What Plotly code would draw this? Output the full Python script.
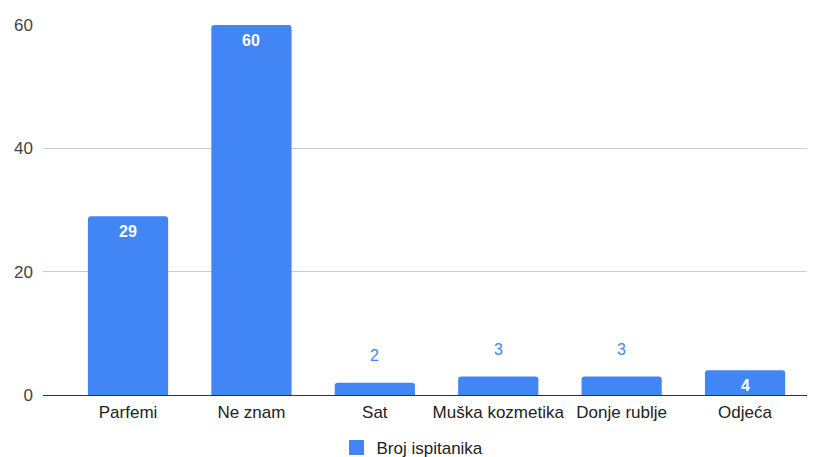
import plotly.graph_objects as go

categories = ["Parfemi", "Ne znam", "Sat", "Muška kozmetika", "Donje rublje", "Odjeća"]
values = [29, 60, 2, 3, 3, 4]
series_name = "Broj ispitanika"
y_ticks = [0, 20, 40, 60]

BLUE = "#4285F4"
FONT = "Liberation Sans, Arial, sans-serif"

fig = go.Figure()
fig.add_trace(go.Bar(
    x=list(range(len(categories))),
    y=values,
    name=series_name,
    marker=dict(color=BLUE, line=dict(width=0)),
    width=0.65,
    hoverinfo="skip",
    showlegend=False,
    legendgroup="s",
))
# legend entry with a larger square swatch, as in the reference
fig.add_trace(go.Scatter(
    x=[None], y=[None], mode="markers", name=series_name,
    marker=dict(symbol="square", size=15, color=BLUE),
    legendgroup="s", showlegend=True, hoverinfo="skip",
))

annotations = []
for i, v in enumerate(values):
    inside = v >= 4
    annotations.append(dict(
        x=i, y=v, xref="x", yref="y",
        text=(f"<b>{v}</b>" if inside else str(v)),
        showarrow=False,
        yshift=-15 if inside else 27,
        font=dict(family=FONT, size=16, color="white" if inside else BLUE),
    ))

# page body has an 8px default margin; figure sized to fit the 815x457 window
fig.update_layout(
    width=807, height=449,
    margin=dict(l=35, r=7, t=17, b=62, autoexpand=False),
    paper_bgcolor="white", plot_bgcolor="white",
    font=dict(family=FONT, size=17, color="#222222"),
    barcornerradius=3,
    showlegend=True,
    legend=dict(orientation="h", x=0.483, xanchor="center", y=-0.143, yanchor="middle",
                itemsizing="trace",
                font=dict(family=FONT, size=17, color="#222222")),
    annotations=annotations,
    xaxis=dict(
        range=[-0.689, 5.51],
        tickmode="array",
        tickvals=list(range(len(categories))),
        ticktext=categories,
        showgrid=False, zeroline=False, showline=False,
        ticks="", tickfont=dict(family=FONT, size=17, color="#222222"),
        ticklabelstandoff=5,
        automargin=False,
        fixedrange=True,
    ),
    yaxis=dict(
        range=[0, 60],
        tickmode="array",
        tickvals=y_ticks,
        showgrid=True, gridcolor="#cccccc", gridwidth=1,
        zeroline=True, zerolinecolor="#333333", zerolinewidth=1,
        showline=False, ticks="",
        tickfont=dict(family=FONT, size=17, color="#444444"),
        ticklabelstandoff=9,
        automargin=False,
        fixedrange=True,
    ),
)

fig.write_html("out.html")
